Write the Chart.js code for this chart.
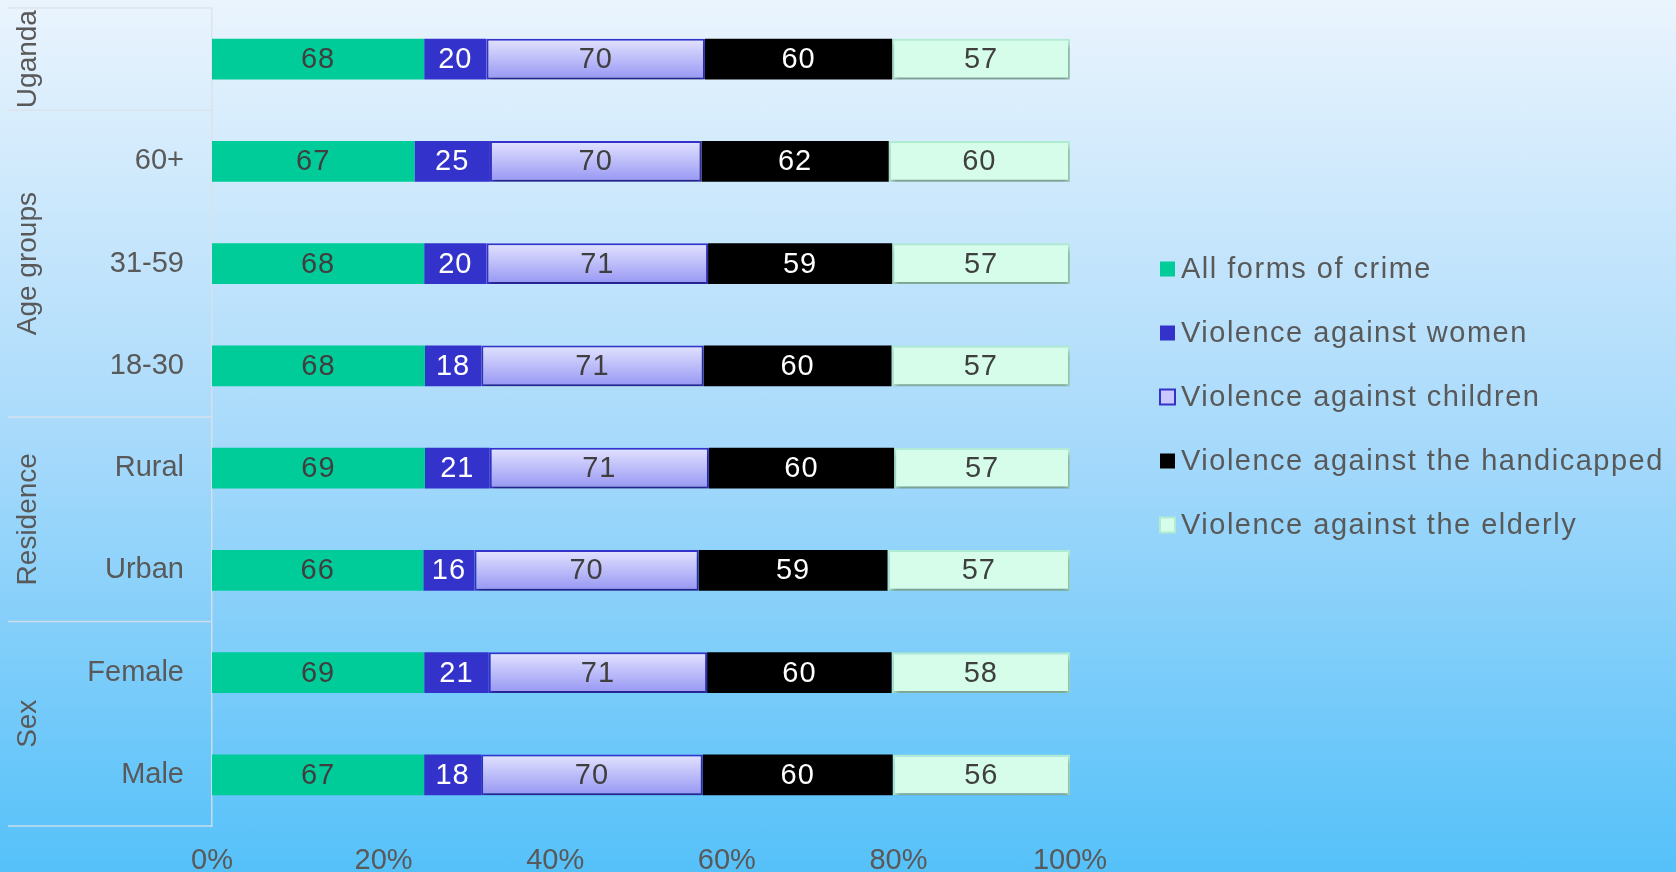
<!DOCTYPE html>
<html>
<head>
<meta charset="utf-8">
<script src="https://cdn.jsdelivr.net/npm/chart.js@4.4.1/dist/chart.umd.min.js"></script>
<style>
  html, body { margin: 0; padding: 0; }
  #wrap {
    width: 1676px; height: 872px; position: relative;
    background: linear-gradient(to bottom, #eaf4fd 0%, #a8dafb 50%, #55c1f9 100%);
  }
</style>
</head>
<body>
<div id="wrap"><canvas id="bar-chart"></canvas></div>
<script>
// rows, top to bottom
var categories = ["", "60+", "31-59", "18-30", "Rural", "Urban", "Female", "Male"];
var groupNames = ["Uganda", "Age groups", "Residence", "Sex"];
var groupSizes = [1, 3, 2, 2];

var seriesNames = ["All forms of crime", "Violence against women", "Violence against children",
                   "Violence against the handicapped", "Violence against the elderly"];
var allCrime     = [68, 67, 68, 68, 69, 66, 69, 67];
var women        = [20, 25, 20, 18, 21, 16, 21, 18];
var children     = [70, 70, 71, 71, 71, 70, 71, 70];
var handicapped  = [60, 62, 59, 60, 60, 59, 60, 60];
var elderly      = [57, 60, 57, 57, 57, 57, 58, 56];

var xTicks = [0, 20, 40, 60, 80, 100];

var raw = [allCrime, women, children, handicapped, elderly];
var totals = categories.map(function (c, i) {
  return raw.reduce(function (s, arr) { return s + arr[i]; }, 0);
});
function share(arr) { return arr.map(function (v, i) { return v / totals[i] * 100; }); }

var FONT = "'Liberation Sans', Arial, sans-serif";
var grey = "#595959";
var lineCol = "rgba(220,225,230,0.85)";

function childFill(ctx) {
  var chart = ctx.chart, y = chart.scales && chart.scales.y;
  if (!chart.chartArea || !y || ctx.dataIndex === undefined) return "#b8b8fc";
  var yc = y.getPixelForValue(ctx.dataIndex);
  var g = chart.ctx.createLinearGradient(0, yc - 20, 0, yc + 20);
  g.addColorStop(0, "#e2e2ff");
  g.addColorStop(1, "#9797f4");
  return g;
}

var styles = [
  { bg: "#00cc99", border: "#00cc99", bw: 0, text: "#3f3f3f" },
  { bg: "#3333cc", border: "#3333cc", bw: 0, text: "#ffffff" },
  { bg: childFill, border: "#3333cc", bw: 2, text: "#3f3f3f", legendBg: "#c8c8fc" },
  { bg: "#000000", border: "#000000", bw: 0, text: "#ffffff" },
  { bg: "#d6fdea", border: "#b0ecd2", bw: 2, text: "#3f3f3f" }
];

var datasets = raw.map(function (arr, k) {
  return {
    label: seriesNames[k],
    data: share(arr),
    rawValues: arr,
    backgroundColor: styles[k].bg,
    borderColor: styles[k].border,
    borderWidth: styles[k].bw,
    borderSkipped: false,
    categoryPercentage: 1,
    barPercentage: 0.4
  };
});

var groupPlugin = {
  id: "groups",
  afterDraw: function (chart) {
    var ctx = chart.ctx, y = chart.scales.y, area = chart.chartArea;
    var edges = [area.top];
    var idx = 0;
    groupSizes.forEach(function (n) {
      idx += n;
      edges.push(idx >= categories.length ? area.bottom
        : (y.getPixelForValue(idx - 1) + y.getPixelForValue(idx)) / 2);
    });
    ctx.save();
    ctx.strokeStyle = lineCol;
    ctx.lineWidth = 1.5;
    edges.forEach(function (e) {
      ctx.beginPath(); ctx.moveTo(8, e); ctx.lineTo(area.left, e); ctx.stroke();
    });
    ctx.fillStyle = grey;
    ctx.font = "28px " + FONT;
    ctx.textAlign = "center";
    ctx.textBaseline = "middle";
    groupNames.forEach(function (name, g) {
      var cy = (edges[g] + edges[g + 1]) / 2;
      ctx.save();
      ctx.translate(28, cy);
      ctx.rotate(-Math.PI / 2);
      ctx.fillText(name, 0, 0);
      ctx.restore();
    });
    ctx.restore();
  }
};

var shadowPlugin = {
  id: "shadow",
  beforeDatasetDraw: function (chart, args) {
    if (args.index === 2 || args.index === 4) {
      chart.ctx.save();
      chart.ctx.shadowColor = "rgba(0,0,0,0.35)";
      chart.ctx.shadowBlur = 5;
      chart.ctx.shadowOffsetY = 4;
      chart.ctx.shadowOffsetX = 1;
    }
  },
  afterDatasetDraw: function (chart, args) {
    if (args.index === 2 || args.index === 4) chart.ctx.restore();
  }
};

var labelPlugin = {
  id: "valueLabels",
  afterDatasetsDraw: function (chart) {
    var ctx = chart.ctx;
    ctx.save();
    ctx.font = "29px " + FONT;
    ctx.letterSpacing = "1px";
    ctx.textAlign = "center";
    ctx.textBaseline = "middle";
    chart.data.datasets.forEach(function (ds, k) {
      var meta = chart.getDatasetMeta(k);
      ctx.fillStyle = styles[k].text;
      meta.data.forEach(function (bar, i) {
        var p = bar.getCenterPoint();
        ctx.fillText(ds.rawValues[i], p.x, p.y + 1);
      });
    });
    ctx.restore();
  }
};

var legendPlugin = {
  id: "sideLegend",
  afterDraw: function (chart) {
    var ctx = chart.ctx;
    var x0 = chart.chartArea.right + 90, y0 = 269, step = 64;
    ctx.save();
    ctx.font = "29px " + FONT;
    ctx.letterSpacing = "1.5px";
    ctx.textBaseline = "middle";
    ctx.textAlign = "left";
    seriesNames.forEach(function (name, k) {
      var cy = y0 + k * step;
      var st = styles[k];
      ctx.fillStyle = st.legendBg || st.bg;
      ctx.fillRect(x0, cy - 7.5, 15, 15);
      if (st.bw) {
        ctx.strokeStyle = st.border;
        ctx.lineWidth = 2;
        ctx.strokeRect(x0, cy - 7.5, 15, 15);
      }
      ctx.fillStyle = grey;
      ctx.fillText(name, x0 + 21, cy + 1);
    });
    ctx.restore();
  }
};

new Chart(document.getElementById("bar-chart"), {
  type: "bar",
  data: { labels: categories, datasets: datasets },
  plugins: [shadowPlugin, labelPlugin, groupPlugin, legendPlugin],
  options: {
    indexAxis: "y",
    responsive: true,
    maintainAspectRatio: false,
    animation: false,
    layout: { padding: { left: 0, top: 8, right: 606, bottom: 0 } },
    plugins: {
      legend: { display: false },
      tooltip: { enabled: false }
    },
    scales: {
      x: {
        stacked: true,
        min: 0,
        max: 100,
        afterBuildTicks: function (axis) {
          axis.ticks = xTicks.map(function (v) { return { value: v }; });
        },
        afterFit: function (axis) {
          axis.height = 46;
          axis.paddingLeft = 0;
          axis.paddingRight = 0;
        },
        grid: { display: false, drawTicks: false },
        border: { display: false },
        ticks: {
          padding: 18,
          color: grey,
          font: { family: FONT, size: 29 },
          callback: function (v) { return v + "%"; }
        }
      },
      y: {
        stacked: true,
        afterFit: function (axis) {
          axis.width = 212;
          axis.paddingTop = 0;
          axis.paddingBottom = 0;
        },
        grid: { display: false, drawTicks: false },
        border: { display: true, color: lineCol, width: 1.5 },
        ticks: {
          padding: 28,
          color: grey,
          font: { family: FONT, size: 29 }
        }
      }
    }
  }
});
</script>
</body>
</html>
